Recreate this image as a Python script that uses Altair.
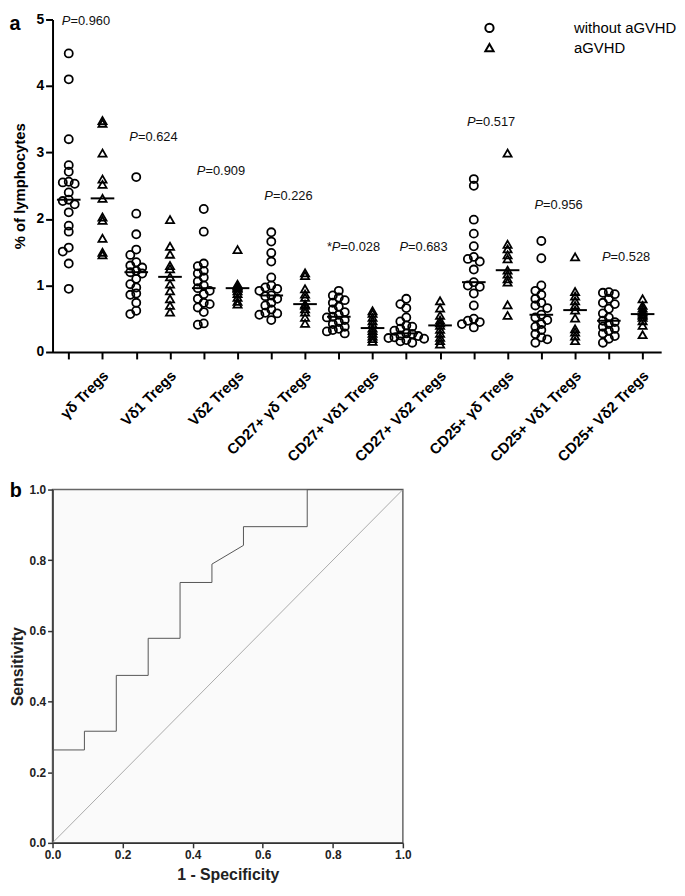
import json
import altair as alt
import pandas as pd

FONT = "Liberation Sans, Arial, sans-serif"

groups = ["γδ Tregs", "Vδ1 Tregs", "Vδ2 Tregs", "CD27+ γδ Tregs", "CD27+ Vδ1 Tregs",
          "CD27+ Vδ2 Tregs", "CD25+ γδ Tregs", "CD25+ Vδ1 Tregs", "CD25+ Vδ2 Tregs"]
series_names = ["without aGVHD", "aGVHD"]

without_vals = [
    [4.49, 4.10, 3.20, 2.81, 2.71, 2.56, 2.55, 2.53, 2.40, 2.29, 2.27, 2.22, 2.10, 1.90, 1.81, 1.57, 1.51, 1.33, 0.95],
    [2.63, 2.08, 1.77, 1.54, 1.46, 1.35, 1.30, 1.27, 1.22, 1.20, 1.18, 1.10, 1.02, 0.97, 0.88, 0.86, 0.74, 0.62, 0.57],
    [2.15, 1.81, 1.33, 1.29, 1.22, 1.18, 1.12, 1.06, 1.00, 0.96, 0.92, 0.87, 0.80, 0.74, 0.72, 0.67, 0.60, 0.43, 0.41],
    [1.80, 1.66, 1.49, 1.36, 1.12, 1.00, 0.97, 0.95, 0.92, 0.85, 0.84, 0.80, 0.74, 0.70, 0.64, 0.59, 0.58, 0.56, 0.48],
    [0.92, 0.85, 0.82, 0.78, 0.74, 0.68, 0.64, 0.60, 0.56, 0.53, 0.52, 0.48, 0.45, 0.42, 0.38, 0.35, 0.33, 0.31, 0.28],
    [0.80, 0.72, 0.66, 0.52, 0.46, 0.40, 0.38, 0.35, 0.32, 0.28, 0.27, 0.25, 0.24, 0.22, 0.21, 0.20, 0.18, 0.16, 0.14],
    [2.60, 2.50, 1.99, 1.78, 1.59, 1.43, 1.40, 1.36, 1.24, 1.05, 1.00, 0.98, 0.88, 0.70, 0.50, 0.47, 0.45, 0.42, 0.37],
    [1.67, 1.41, 1.00, 0.92, 0.86, 0.80, 0.74, 0.70, 0.66, 0.56, 0.52, 0.48, 0.42, 0.38, 0.33, 0.27, 0.22, 0.19, 0.14],
    [0.90, 0.89, 0.87, 0.80, 0.74, 0.72, 0.65, 0.58, 0.52, 0.47, 0.45, 0.42, 0.38, 0.35, 0.32, 0.28, 0.24, 0.20, 0.14],
]
agvhd_vals = [
    [3.48, 3.44, 2.99, 2.60, 2.52, 2.31, 2.03, 1.98, 1.71, 1.50, 1.46],
    [1.99, 1.59, 1.47, 1.30, 1.25, 1.13, 1.02, 0.92, 0.80, 0.70, 0.60],
    [1.54, 1.02, 1.00, 0.98, 0.96, 0.96, 0.92, 0.88, 0.82, 0.76, 0.72],
    [1.19, 1.15, 0.95, 0.87, 0.82, 0.72, 0.70, 0.65, 0.60, 0.52, 0.43],
    [0.62, 0.58, 0.52, 0.47, 0.42, 0.36, 0.32, 0.28, 0.24, 0.20, 0.16],
    [0.77, 0.66, 0.55, 0.48, 0.44, 0.40, 0.34, 0.28, 0.22, 0.17, 0.12],
    [2.99, 1.62, 1.55, 1.46, 1.40, 1.23, 1.17, 1.10, 1.05, 0.71, 0.55],
    [1.43, 0.91, 0.84, 0.77, 0.70, 0.63, 0.51, 0.35, 0.30, 0.24, 0.17],
    [0.80, 0.70, 0.66, 0.62, 0.60, 0.57, 0.55, 0.52, 0.47, 0.40, 0.26],
]
p_values = ["0.960", "0.624", "0.909", "0.226", "0.028", "0.683", "0.517", "0.956", "0.528"]
p_label_y = [4.98, 3.23, 2.72, 2.34, 1.58, 1.58, 3.46, 2.21, 1.43]
p_star = [False, False, False, False, True, False, False, False, False]

roc_fpr = [0.0, 0.0, 0.091, 0.091, 0.182, 0.182, 0.273, 0.273, 0.364, 0.364,
           0.455, 0.455, 0.545, 0.545, 0.727, 0.727, 1.0]
roc_tpr = [0.0, 0.263, 0.263, 0.316, 0.316, 0.474, 0.474, 0.579, 0.579, 0.737,
           0.737, 0.789, 0.842, 0.895, 0.895, 1.0, 1.0]
diag_vals = [0.0, 1.0]

# ---------------- layout constants ----------------
W_A, H_A = 615, 336
X_DOM = [0.52, 18.55]
PX_X = W_A / (X_DOM[1] - X_DOM[0])
PX_Y = H_A / 5.0


def swarm(vals, step=6.0, dmin=6.0):
    """deterministic beeswarm offsets (in x data units)"""
    placed, offs = [], []
    cands = [0, -step, step, -2 * step, 2 * step, -3 * step, 3 * step]
    for v in vals:
        yy = v * PX_Y
        chosen = cands[-1]
        for c in cands:
            if all((c - px) ** 2 + (yy - py) ** 2 >= dmin ** 2 for px, py in placed):
                chosen = c
                break
        placed.append((chosen, yy))
        offs.append(chosen / PX_X)
    return offs


rows = []
for i, g in enumerate(groups):
    p1, p2 = 2 * i + 1, 2 * i + 2
    for v, o in zip(without_vals[i], swarm(without_vals[i])):
        rows.append({"pos": p1, "x": p1 + o, "y": v, "series": series_names[0]})
    for v in agvhd_vals[i]:
        rows.append({"pos": p2, "x": p2, "y": v, "series": series_names[1]})
pts = pd.DataFrame(rows)

pdf = pd.DataFrame({
    "pos": [2 * i + 1 for i in range(len(groups))],
    "y": p_label_y,
    "val": ["=" + p for p in p_values],
    "star": p_star,
})

xs = alt.Scale(domain=X_DOM, nice=False, zero=False)
ys = alt.Scale(domain=[0, 5], nice=False)

labels_js = json.dumps(groups, ensure_ascii=False)
x_axis = alt.Axis(
    values=list(range(1, 19)),
    labelExpr=f"datum.value % 2 == 0 ? {labels_js}[datum.value / 2 - 1] : ''",
    labelAngle=-45, labelAlign="right", labelBaseline="middle",
    labelFontSize=15, labelFontWeight="bold", labelColor="black", labelFont=FONT,
    labelOffset=3, labelPadding=14, labelOverlap=False, labelFlush=False, labelBound=False,
    tickSize=7, tickWidth=2, tickColor="black",
    domainColor="black", domainWidth=2, grid=False, title=None,
)
y_axis = alt.Axis(
    values=[0, 1, 2, 3, 4, 5], format="d",
    labelFontSize=14, labelFontWeight="bold", labelColor="black", labelFont=FONT,
    labelPadding=2, labelFlush=False,
    tickSize=7, tickWidth=2, tickColor="black",
    domainColor="black", domainWidth=2, grid=False,
    title="% of lymphocytes", titleFontSize=15, titleFontWeight="bold",
    titleFont=FONT, titleColor="black", titlePadding=9,
)


def X(field):
    return alt.X(field, scale=xs, axis=x_axis)


def Y(field):
    return alt.Y(field, scale=ys, axis=y_axis)


points = alt.Chart(pts).mark_point(filled=False, size=67, strokeWidth=1.8, color="black", opacity=1).encode(
    x=X("x:Q"),
    y=Y("y:Q"),
    shape=alt.Shape("series:N",
                    scale=alt.Scale(domain=series_names, range=["circle", "triangle-up"]),
                    legend=alt.Legend(title=None, orient="none", legendX=434, legendY=1,
                                      labelFontSize=15, labelFont=FONT, labelColor="black",
                                      symbolStrokeColor="black", symbolFillColor="transparent",
                                      symbolStrokeWidth=2, symbolSize=70,
                                      labelOffset=78, rowPadding=3, padding=0)),
)

medians = alt.Chart(pts).transform_aggregate(
    med="median(y)", groupby=["pos"]
).transform_calculate(
    xa="datum.pos - 0.35", xb="datum.pos + 0.35"
).mark_rule(color="black", strokeWidth=2).encode(
    x=X("xa:Q"),
    x2="xb:Q",
    y=Y("med:Q"),
)

p_italic = alt.Chart(pdf).mark_text(
    text="P", fontStyle="italic", fontSize=13, font=FONT, align="left", baseline="middle",
    dx=-7, color="#111"
).encode(x=X("pos:Q"), y=Y("y:Q"))

p_rest = alt.Chart(pdf).mark_text(
    fontSize=13, font=FONT, align="left", baseline="middle", dx=1.7, color="#111"
).encode(x=X("pos:Q"), y=Y("y:Q"), text="val:N")

p_starmark = alt.Chart(pdf).transform_filter("datum.star").mark_text(
    text="*", fontSize=13, font=FONT, align="left", baseline="middle", dx=-12, color="#111"
).encode(x=X("pos:Q"), y=Y("y:Q"))

a_label = alt.Chart(pd.DataFrame({"t": ["a"]})).mark_text(
    fontSize=20, fontWeight="bold", font=FONT, align="center", baseline="middle", color="black"
).encode(x=alt.value(-38), y=alt.value(5), text="t:N")

panel_a = alt.layer(points, medians, p_italic, p_rest, p_starmark, a_label).properties(
    width=W_A, height=H_A
)

# ---------------- panel b ----------------
roc_df = pd.DataFrame({"fpr": roc_fpr, "tpr": roc_tpr, "idx": list(range(len(roc_fpr)))})
diag_df = pd.DataFrame({"fpr": diag_vals, "tpr": diag_vals})

bx = alt.Scale(domain=[0, 1], nice=False)
by = alt.Scale(domain=[0, 1], nice=False)


def b_axis(title, pad):
    return alt.Axis(
        values=[0, 0.2, 0.4, 0.6, 0.8, 1.0], format=".1f",
        labelFontSize=12, labelFontWeight="bold", labelColor="#222", labelFont=FONT,
        labelPadding=2, labelFlush=False,
        tickSize=5, tickWidth=1.5, tickColor="#333",
        domainColor="#333", domainWidth=1.5, grid=False,
        title=title, titleFontSize=16, titleFontWeight="bold", titleFont=FONT,
        titleColor="#222", titlePadding=pad,
    )


bx_axis = b_axis("1 - Specificity", 6)
by_axis = b_axis("Sensitivity", 4)

diag = alt.Chart(diag_df).mark_line(color="#aaa", strokeWidth=1).encode(
    x=alt.X("fpr:Q", scale=bx, axis=bx_axis),
    y=alt.Y("tpr:Q", scale=by, axis=by_axis),
)
roc = alt.Chart(roc_df).mark_line(color="#555", strokeWidth=1).encode(
    x=alt.X("fpr:Q", scale=bx, axis=bx_axis),
    y=alt.Y("tpr:Q", scale=by, axis=by_axis),
    order="idx:Q",
)
b_label = alt.Chart(pd.DataFrame({"t": ["b"]})).mark_text(
    fontSize=20, fontWeight="bold", font=FONT, align="center", baseline="middle", color="black"
).encode(x=alt.value(-37), y=alt.value(2), text="t:N")

panel_b = alt.layer(diag, roc, b_label).properties(
    width=354, height=357,
    view=alt.ViewBackground(fill="#fafafa", stroke="#666", strokeWidth=1.5),
)

chart = alt.vconcat(panel_a, panel_b, spacing=16).configure(
    font=FONT, padding={"left": 0, "top": 0, "right": 0, "bottom": 0}, background="white"
).configure_view(stroke=None)

chart.save("out.html", embed_options={"renderer": "svg", "actions": False})
